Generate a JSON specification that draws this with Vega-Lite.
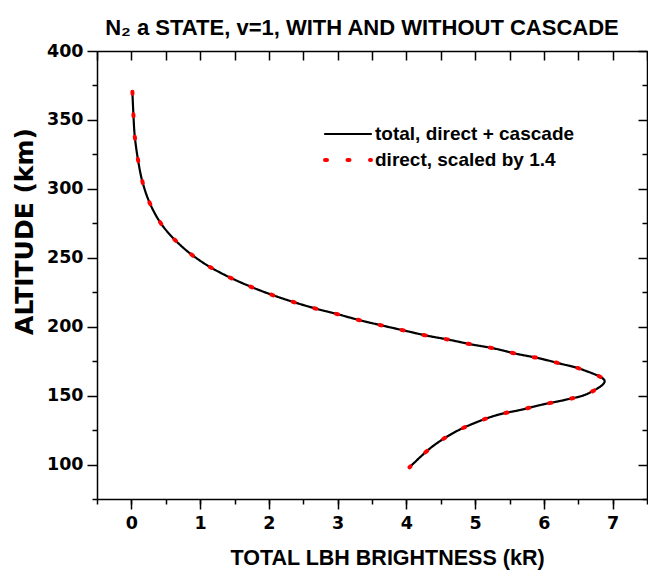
{
  "$schema": "https://vega.github.io/schema/vega-lite/v6.json",
  "width": 550,
  "height": 448,
  "autosize": {"type": "none"},
  "padding": {"left": 97, "top": 51, "right": 1, "bottom": 72},
  "background": "white",
  "config": {"view": {"stroke": null}, "font": "Liberation Sans"},
  "title": {"text": "N₂ a STATE, v=1, WITH AND WITHOUT CASCADE", "font": "Liberation Sans", "fontSize": 22, "fontWeight": "bold", "color": "black", "anchor": "middle", "frame": "group", "baseline": "alphabetic", "offset": -15, "dx": -10},
  "data": {"values": [
    {"series": "total, direct + cascade", "brightness": 0.015, "altitude": 370.4},
    {"series": "total, direct + cascade", "brightness": 0.029, "altitude": 354.5},
    {"series": "total, direct + cascade", "brightness": 0.049, "altitude": 338.3},
    {"series": "total, direct + cascade", "brightness": 0.093, "altitude": 322.1},
    {"series": "total, direct + cascade", "brightness": 0.156, "altitude": 306.1},
    {"series": "total, direct + cascade", "brightness": 0.268, "altitude": 289.6},
    {"series": "total, direct + cascade", "brightness": 0.451, "altitude": 273.4},
    {"series": "total, direct + cascade", "brightness": 0.742, "altitude": 257.8},
    {"series": "total, direct + cascade", "brightness": 1.062, "altitude": 245.8},
    {"series": "total, direct + cascade", "brightness": 1.388, "altitude": 236.8},
    {"series": "total, direct + cascade", "brightness": 1.713, "altitude": 229.5},
    {"series": "total, direct + cascade", "brightness": 2.033, "altitude": 223.3},
    {"series": "total, direct + cascade", "brightness": 2.358, "altitude": 217.9},
    {"series": "total, direct + cascade", "brightness": 2.684, "altitude": 213.1},
    {"series": "total, direct + cascade", "brightness": 3.004, "altitude": 209.0},
    {"series": "total, direct + cascade", "brightness": 3.328, "altitude": 204.6},
    {"series": "total, direct + cascade", "brightness": 3.653, "altitude": 200.8},
    {"series": "total, direct + cascade", "brightness": 3.979, "altitude": 197.1},
    {"series": "total, direct + cascade", "brightness": 4.299, "altitude": 193.5},
    {"series": "total, direct + cascade", "brightness": 4.614, "altitude": 190.6},
    {"series": "total, direct + cascade", "brightness": 4.940, "altitude": 187.2},
    {"series": "total, direct + cascade", "brightness": 5.268, "altitude": 184.3},
    {"series": "total, direct + cascade", "brightness": 5.594, "altitude": 180.4},
    {"series": "total, direct + cascade", "brightness": 5.919, "altitude": 177.2},
    {"series": "total, direct + cascade", "brightness": 6.239, "altitude": 173.2},
    {"series": "total, direct + cascade", "brightness": 6.564, "altitude": 168.8},
    {"series": "total, direct + cascade", "brightness": 6.884, "altitude": 160.5},
    {"series": "total, direct + cascade", "brightness": 6.637, "altitude": 151.4},
    {"series": "total, direct + cascade", "brightness": 6.316, "altitude": 147.0},
    {"series": "total, direct + cascade", "brightness": 5.987, "altitude": 143.6},
    {"series": "total, direct + cascade", "brightness": 5.667, "altitude": 139.7},
    {"series": "total, direct + cascade", "brightness": 5.347, "altitude": 136.3},
    {"series": "total, direct + cascade", "brightness": 5.021, "altitude": 130.7},
    {"series": "total, direct + cascade", "brightness": 4.697, "altitude": 123.3},
    {"series": "total, direct + cascade", "brightness": 4.366, "altitude": 112.6},
    {"series": "total, direct + cascade", "brightness": 4.046, "altitude": 98.0},
    {"series": "direct, scaled by 1.4", "brightness": 0.015, "altitude": 370.4},
    {"series": "direct, scaled by 1.4", "brightness": 0.029, "altitude": 354.5},
    {"series": "direct, scaled by 1.4", "brightness": 0.049, "altitude": 338.3},
    {"series": "direct, scaled by 1.4", "brightness": 0.093, "altitude": 322.1},
    {"series": "direct, scaled by 1.4", "brightness": 0.156, "altitude": 306.1},
    {"series": "direct, scaled by 1.4", "brightness": 0.268, "altitude": 289.6},
    {"series": "direct, scaled by 1.4", "brightness": 0.451, "altitude": 273.4},
    {"series": "direct, scaled by 1.4", "brightness": 0.742, "altitude": 257.8},
    {"series": "direct, scaled by 1.4", "brightness": 1.062, "altitude": 245.8},
    {"series": "direct, scaled by 1.4", "brightness": 1.388, "altitude": 236.8},
    {"series": "direct, scaled by 1.4", "brightness": 1.713, "altitude": 229.5},
    {"series": "direct, scaled by 1.4", "brightness": 2.033, "altitude": 223.3},
    {"series": "direct, scaled by 1.4", "brightness": 2.358, "altitude": 217.9},
    {"series": "direct, scaled by 1.4", "brightness": 2.684, "altitude": 213.1},
    {"series": "direct, scaled by 1.4", "brightness": 3.004, "altitude": 209.0},
    {"series": "direct, scaled by 1.4", "brightness": 3.328, "altitude": 204.6},
    {"series": "direct, scaled by 1.4", "brightness": 3.653, "altitude": 200.8},
    {"series": "direct, scaled by 1.4", "brightness": 3.979, "altitude": 197.1},
    {"series": "direct, scaled by 1.4", "brightness": 4.299, "altitude": 193.5},
    {"series": "direct, scaled by 1.4", "brightness": 4.614, "altitude": 190.6},
    {"series": "direct, scaled by 1.4", "brightness": 4.940, "altitude": 187.2},
    {"series": "direct, scaled by 1.4", "brightness": 5.268, "altitude": 184.3},
    {"series": "direct, scaled by 1.4", "brightness": 5.594, "altitude": 180.4},
    {"series": "direct, scaled by 1.4", "brightness": 5.919, "altitude": 177.2},
    {"series": "direct, scaled by 1.4", "brightness": 6.239, "altitude": 173.2},
    {"series": "direct, scaled by 1.4", "brightness": 6.564, "altitude": 168.8},
    {"series": "direct, scaled by 1.4", "brightness": 6.884, "altitude": 160.5},
    {"series": "direct, scaled by 1.4", "brightness": 6.637, "altitude": 151.4},
    {"series": "direct, scaled by 1.4", "brightness": 6.316, "altitude": 147.0},
    {"series": "direct, scaled by 1.4", "brightness": 5.987, "altitude": 143.6},
    {"series": "direct, scaled by 1.4", "brightness": 5.667, "altitude": 139.7},
    {"series": "direct, scaled by 1.4", "brightness": 5.347, "altitude": 136.3},
    {"series": "direct, scaled by 1.4", "brightness": 5.021, "altitude": 130.7},
    {"series": "direct, scaled by 1.4", "brightness": 4.697, "altitude": 123.3},
    {"series": "direct, scaled by 1.4", "brightness": 4.366, "altitude": 112.6},
    {"series": "direct, scaled by 1.4", "brightness": 4.046, "altitude": 98.0}
  ]},
  "layer": [
    {
      "transform": [{"filter": "datum.series == 'total, direct + cascade'"}],
      "mark": {"type": "line", "interpolate": "catmull-rom", "opacity": 0},
      "encoding": {
        "x": {"field": "brightness", "type": "quantitative",
          "scale": {"domain": [-0.5, 7.5], "nice": false, "zero": false},
          "axis": {"orient": "bottom", "values": [-0.5,0,0.5,1,1.5,2,2.5,3,3.5,4,4.5,5,5.5,6,6.5,7,7.5],
            "labels": false, "title": null, "domain": false, "grid": false, "minExtent": 0, "maxExtent": 0,
            "tickSize": 5, "tickColor": "black", "tickWidth": 1.5}},
        "y": {"field": "altitude", "type": "quantitative",
          "scale": {"domain": [75, 400], "nice": false, "zero": false},
          "axis": null},
        "order": {"field": "altitude", "sort": "descending"}
      }
    },
    {
      "transform": [{"filter": "datum.series == 'total, direct + cascade'"}],
      "mark": {"type": "line", "interpolate": "catmull-rom", "strokeCap": "round"},
      "encoding": {
        "x": {"field": "brightness", "type": "quantitative",
          "axis": {"orient": "bottom", "values": [0,1,2,3,4,5,6,7],
            "format": "d", "tickSize": 10,
            "grid": false, "domainColor": "black", "domainWidth": 1.5, "tickColor": "black", "tickWidth": 1.5,
            "labelFont": "DejaVu Sans", "labelFontSize": 17.5, "labelFontWeight": "bold", "labelColor": "black",
            "labelPadding": 5, "labelFlush": false, "labelOverlap": false,
            "title": "TOTAL LBH BRIGHTNESS (kR)", "titleFont": "Liberation Sans", "titleFontSize": 21.5, "titleFontWeight": "bold", "titleColor": "black", "titlePadding": 16, "titleX": 290}},
        "y": {"field": "altitude", "type": "quantitative",
          "axis": {"orient": "left", "values": [75,100,125,150,175,200,225,250,275,300,325,350,375,400],
            "format": "d", "labelExpr": "datum.value % 50 == 0 ? datum.label : ''",
            "tickSize": {"condition": {"test": "datum.value % 50 == 0", "value": 10}, "value": 5},
            "grid": false, "domainColor": "black", "domainWidth": 1.5, "tickColor": "black", "tickWidth": 1.5,
            "labelFont": "DejaVu Sans", "labelFontSize": 17.5, "labelFontWeight": "bold", "labelColor": "black",
            "labelPadding": 4, "labelFlush": false, "labelOverlap": false,
            "title": "ALTITUDE (km)", "titleFont": "DejaVu Sans", "titleFontSize": 25, "titleFontWeight": "bold", "titleColor": "black", "titlePadding": 9, "titleY": 180}},
        "order": {"field": "altitude", "sort": "descending"},
        "color": {"field": "series", "type": "nominal",
          "scale": {"domain": ["total, direct + cascade", "direct, scaled by 1.4"], "range": ["black", "#ff0000"]},
          "legend": {"orient": "none", "legendX": 226, "legendY": 72, "title": null, "symbolType": "stroke", "symbolSize": 2116,
            "clipHeight": 22,
            "labelFont": "Liberation Sans", "labelFontSize": 19, "labelFontWeight": "bold", "labelColor": "black",
            "labelOffset": 2, "labelLimit": 0, "rowPadding": 4, "padding": 0, "offset": 0,
            "encode": {"symbols": {"update": {"strokeCap": {"value": "round"}}}}}},
        "strokeDash": {"field": "series", "type": "nominal",
          "scale": {"domain": ["total, direct + cascade", "direct, scaled by 1.4"], "range": [[1, 0], [2, 20.5]]}},
        "strokeWidth": {"field": "series", "type": "nominal",
          "scale": {"domain": ["total, direct + cascade", "direct, scaled by 1.4"], "range": [2.2, 4]}}
      }
    },
    {
      "transform": [{"filter": "datum.series == 'direct, scaled by 1.4'"}],
      "mark": {"type": "line", "interpolate": "catmull-rom", "strokeCap": "round"},
      "encoding": {
        "x": {"field": "brightness", "type": "quantitative",
          "axis": {"orient": "top", "values": [-0.5,0,0.5,1,1.5,2,2.5,3,3.5,4,4.5,5,5.5,6,6.5,7,7.5],
            "labels": false, "title": null, "tickSize": -9, "grid": false, "minExtent": 0, "maxExtent": 0,
            "domainColor": "black", "domainWidth": 1.5, "tickColor": "black", "tickWidth": 1.5}},
        "y": {"field": "altitude", "type": "quantitative",
          "axis": {"orient": "right", "values": [75,100,125,150,175,200,225,250,275,300,325,350,375,400],
            "labels": false, "title": null, "grid": false, "minExtent": 0, "maxExtent": 0,
            "tickSize": {"condition": {"test": "datum.value % 50 == 0", "value": -9}, "value": -5},
            "domainColor": "black", "domainWidth": 1.5, "tickColor": "black", "tickWidth": 1.5}},
        "order": {"field": "altitude", "sort": "descending"},
        "color": {"field": "series", "type": "nominal"},
        "strokeDash": {"field": "series", "type": "nominal"},
        "strokeWidth": {"field": "series", "type": "nominal"}
      }
    }
  ],
  "resolve": {"axis": {"x": "independent", "y": "independent"}}
}
